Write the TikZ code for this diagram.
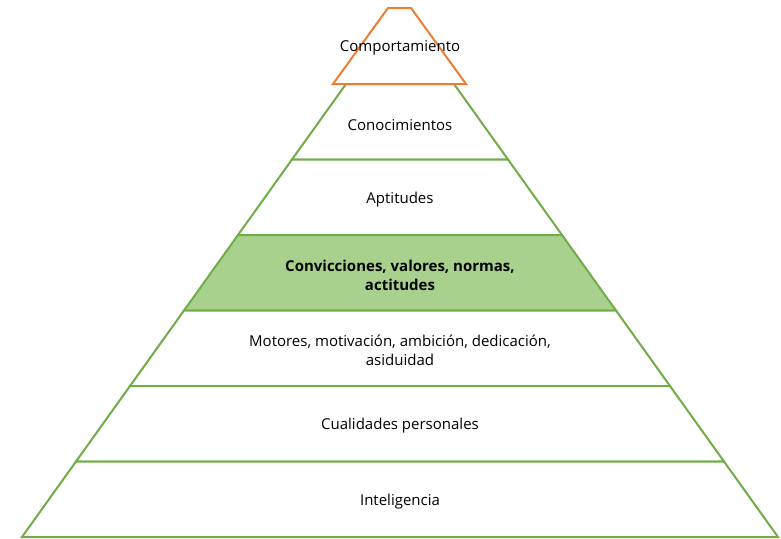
\documentclass[tikz,border=0pt]{standalone}
\usepackage{fontspec}
\setmainfont{Open Sans}
\usetikzlibrary{positioning}
\definecolor{verde}{RGB}{112,173,71}
\definecolor{verdeclaro}{RGB}{169,209,142}
\definecolor{naranja}{RGB}{237,125,49}

\begin{document}
\begin{tikzpicture}[x=1pt, y=-1pt,
    capa/.style={draw=verde, line width=2pt, line join=miter},
    rotulo/.style={font=\fontsize{15}{19}\selectfont, align=center, text=black}]
    \useasboundingbox (0,0) rectangle (781,538);
    % capas verdes, de arriba hacia abajo
    \foreach \i/\relleno in {0/white,1/white,2/verdeclaro,3/white,4/white,5/white} {
        \pgfmathsetmacro{\ya}{84+75.5*\i}
        \pgfmathsetmacro{\yb}{84+75.5*(\i+1)}
        \pgfmathsetmacro{\wa}{54+54*\i}
        \pgfmathsetmacro{\wb}{108+54*\i}
        \draw[capa, fill=\relleno] (400-\wa,\ya) -- (400+\wa,\ya) -- (400+\wb,\yb) -- (400-\wb,\yb) -- cycle;
    }
    % vertice naranja
    \draw[draw=naranja, line width=2pt] (388,8) -- (411,8) -- (466,84) -- (333,84) -- cycle;
    % textos
    \node[rotulo] (comp) at (400,48) {Comportamiento};
    \node[rotulo] (cono) at (400,125) {Conocimientos};
    \node[rotulo] (apti) at (400,200) {Aptitudes};
    \node[rotulo, font=\fontsize{15}{19}\selectfont\bfseries] (conv) at (400,275) {Convicciones, valores, normas,\\actitudes};
    \node[rotulo] (moto) at (400,350) {Motores, motivación, ambición, dedicación,\\asiduidad};
    \node[rotulo] (cual) at (400,426) {Cualidades personales};
    \node[rotulo] (inte) at (400,502) {Inteligencia};
\end{tikzpicture}
\end{document}
